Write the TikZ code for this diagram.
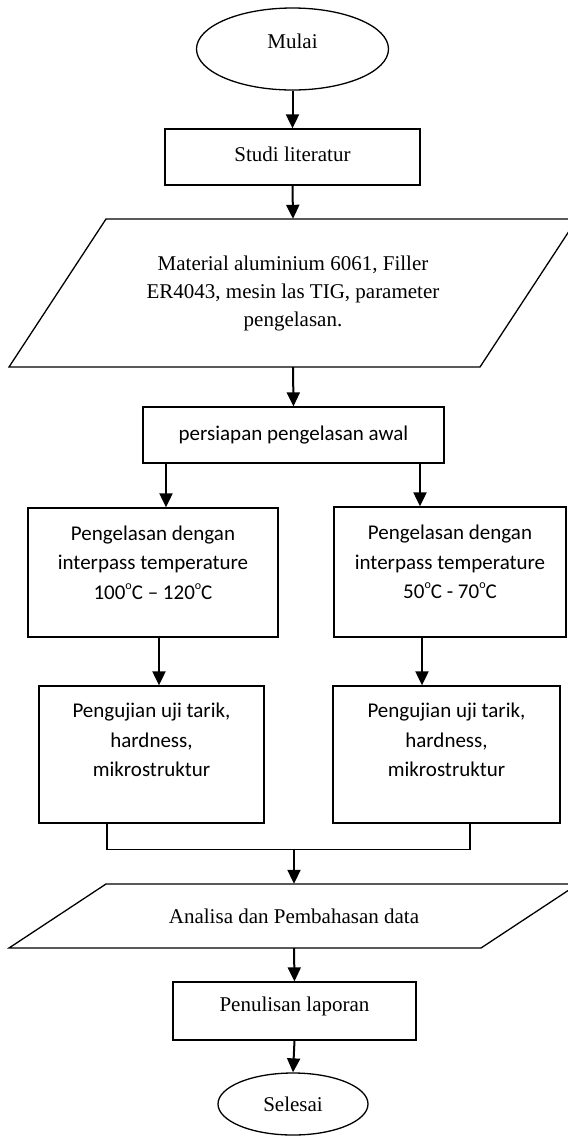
\documentclass[tikz,border=0pt]{standalone}
\usepackage{fontspec}
\setmainfont{Liberation Serif}
\newfontfamily\calibri[Ligatures=TeX]{Carlito}
\usetikzlibrary{shapes.geometric,arrows.meta,calc}
\newcommand\degsup{\raisebox{0.48em}{\fontsize{12}{12}\selectfont o}}
\begin{document}
\begin{tikzpicture}[x=1pt,y=-1pt,
  box/.style={draw, line width=1.3pt, rectangle, inner sep=0pt},
  term/.style={draw, line width=1.3pt, ellipse, inner sep=0pt},
  arr/.style={line width=2pt, -{Triangle[width=13pt,length=14pt]}},
  ln/.style={line width=1.3pt},
  serif/.style={font=\fontsize{21}{28}\selectfont, align=center},
  cal/.style={font=\calibri\fontsize{21}{29.5}\selectfont, align=center}]
\useasboundingbox (0,0) rectangle (568,1136);

\node[term, serif, minimum width=192pt, minimum height=82pt, text depth=16pt] (mulai) at (292.5,49) {Mulai};
\node[box, serif, minimum width=255pt, minimum height=56pt, text depth=6pt] (studi) at (292.5,157) {Studi literatur};

\node[serif, inner sep=0pt, minimum width=300pt, minimum height=148pt] (mat) at (293,293) {Material aluminium 6061, Filler\\ER4043, mesin las TIG, parameter\\pengelasan.};
\draw[ln] (106,219) -- (577,219) -- (480,367) -- (9,367) -- cycle;

\node[box, cal, minimum width=301pt, minimum height=56pt] (prep) at (293.5,435) {persiapan pengelasan awal};

\node[box, cal, minimum width=250pt, minimum height=129pt, text depth=20pt] (pl) at (153,572.5) {Pengelasan dengan\\interpass temperature\\100\degsup C \textendash{} 120\degsup C};
\node[box, cal, minimum width=232pt, minimum height=130pt, text depth=20pt] (pr) at (450,572) {Pengelasan dengan\\interpass temperature\\50\degsup C - 70\degsup C};

\node[box, cal, minimum width=225pt, minimum height=137pt, text depth=29pt] (ujl) at (151.5,754.5) {Pengujian uji tarik,\\hardness,\\mikrostruktur};
\node[box, cal, minimum width=227pt, minimum height=137pt, text depth=29pt] (ujr) at (446.5,754.5) {Pengujian uji tarik,\\hardness,\\mikrostruktur};

\coordinate (jn) at (294,849.5);

\node[serif, inner sep=0pt, minimum width=300pt, minimum height=64pt] (ana) at (294,916) {Analisa dan Pembahasan data};
\draw[ln] (106,884) -- (578,884) -- (481,948) -- (9,948) -- cycle;

\node[box, serif, minimum width=243pt, minimum height=58pt, text depth=14pt] (lap) at (294.5,1011) {Penulisan laporan};
\node[term, serif, minimum width=150pt, minimum height=62pt] (sel) at (293,1104) {Selesai};

\draw[arr] (mulai.south) -- (studi.north);
\draw[arr] (studi.south) -- (mat.north);
\draw[arr] (mat.south) -- (prep.north);
\draw[arr] ([xshift=13pt]pl.north |- prep.south) -- ([xshift=13pt]pl.north);
\draw[arr] ([xshift=-30pt]pr.north |- prep.south) -- ([xshift=-30pt]pr.north);
\draw[arr] ([xshift=6pt]pl.south) -- ([xshift=6pt]pl.south |- ujl.north);
\draw[arr] ([xshift=-28pt]pr.south) -- ([xshift=-28pt]pr.south |- ujr.north);
\draw[ln] ([xshift=-44.5pt]ujl.south) |- (jn) -| ([xshift=23.5pt]ujr.south);
\draw[arr] (jn) -- (ana.north);
\draw[arr] (ana.south) -- (lap.north);
\draw[arr] (lap.south) -- (sel.north);
\end{tikzpicture}
\end{document}
